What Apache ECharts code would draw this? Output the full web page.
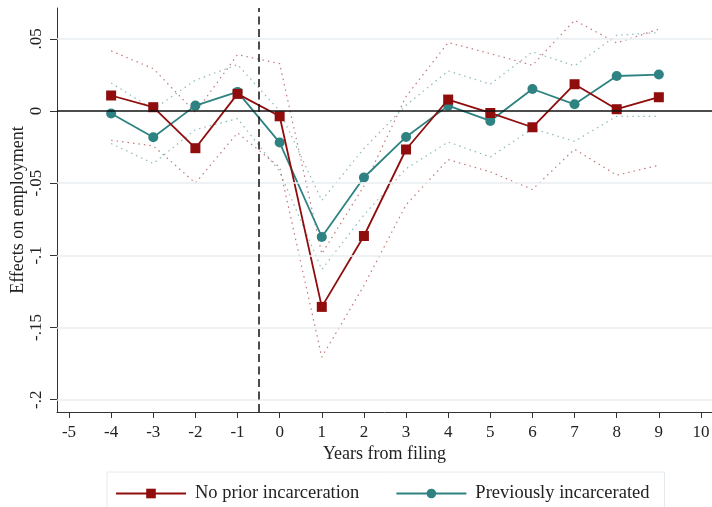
<!DOCTYPE html>
<html>
<head>
<meta charset="utf-8">
<script src="https://cdn.jsdelivr.net/npm/echarts@6/dist/echarts.min.js"></script>
<style>html,body{margin:0;padding:0;background:#fff}#c{width:712px;height:507px}</style>
</head>
<body>
<div id="c"></div>
<script>
var years = [-4,-3,-2,-1,0,1,2,3,4,5,6,7,8,9];
var noPrior = [0.0107,0.0026,-0.0258,0.0118,-0.0037,-0.1357,-0.0866,-0.0267,0.0079,-0.0014,-0.0113,0.0185,0.0012,0.0095];
var noPriorUpper = [0.0416,0.0293,-0.0010,0.0390,0.0328,-0.0990,-0.0520,0.0100,0.0474,0.0397,0.0316,0.0628,0.0471,0.0566];
var noPriorLower = [-0.0203,-0.0242,-0.0499,-0.0152,-0.0390,-0.1705,-0.1210,-0.0650,-0.0337,-0.0422,-0.0544,-0.0265,-0.0445,-0.0376];
var prevInc = [-0.0018,-0.0182,0.0037,0.0132,-0.0219,-0.0873,-0.0461,-0.0180,0.0037,-0.0069,0.0152,0.0046,0.0242,0.0252];
var prevIncUpper = [0.0194,0.0010,0.0213,0.0321,0.0000,-0.0620,-0.0260,0.0040,0.0277,0.0185,0.0409,0.0312,0.0524,0.0543];
var prevIncLower = [-0.0226,-0.0364,-0.0129,-0.0053,-0.0420,-0.1098,-0.0720,-0.0400,-0.0215,-0.0319,-0.0122,-0.0210,-0.0037,-0.0037];
var xTicks = [-5,-4,-3,-2,-1,0,1,2,3,4,5,6,7,8,9,10];
var yTicks = [-0.2,-0.15,-0.1,-0.05,0,0.05];
var yTickLabels = ['-.2','-.15','-.1','-.05','0','.05'];
var filingLine = -0.5;
var names = ['No prior incarceration','Previously incarcerated'];

var RED = '#8f0d0d', TEAL = '#2e8282';
var FONT = 'Liberation Serif';
function pairs(ys){ return years.map(function(x,i){ return [x, ys[i]]; }); }

var gridLines = yTicks.filter(function(v){ return v !== 0; }).map(function(v){
  return {yAxis: v, lineStyle:{color:'#e8eef1', width:1.5, type:'solid'}};
});

var chart = echarts.init(document.getElementById('c'), null, {renderer:'canvas'});
chart.setOption({
  animation:false,
  backgroundColor:'#fff',
  grid:{left:57, right:0, top:8, bottom:95, containLabel:false, outerBoundsMode:'none'},
  xAxis:{
    type:'value', min:-5.285, max:10.262,
    name:'Years from filing', nameLocation:'middle', nameGap:33, nameMoveOverlap:false,
    nameTextStyle:{fontFamily:FONT, fontSize:18, color:'#222'},
    axisLine:{show:true, onZero:false, lineStyle:{color:'#333', width:1}},
    axisTick:{show:true, length:6, customValues:xTicks, lineStyle:{color:'#333'}},
    axisLabel:{customValues:xTicks, fontFamily:FONT, fontSize:17, color:'#222', margin:12},
    splitLine:{show:false}
  },
  yAxis:{
    type:'value', min:-0.2085, max:0.0713,
    name:'Effects on employment', nameLocation:'middle', nameGap:30, nameMoveOverlap:false,
    nameTextStyle:{fontFamily:FONT, fontSize:18, color:'#222'},
    axisLine:{show:true, onZero:false, lineStyle:{color:'#333', width:1}},
    axisTick:{show:true, length:7, customValues:yTicks, lineStyle:{color:'#333'}},
    axisLabel:{customValues:yTicks, rotate:90, fontFamily:FONT, fontSize:17, color:'#222', margin:12,
      formatter:function(v){ var i=yTicks.findIndex(function(t){return Math.abs(t-v)<1e-9;}); return i>=0?yTickLabels[i]:''; }},
    splitLine:{show:false}
  },
  legend:{
    data:names, left:107, top:472, width:560,
    padding:[12,15,14,8], itemGap:36, itemWidth:70, itemHeight:12,
    borderColor:'#e4eaed', borderWidth:1, backgroundColor:'#fff',
    textStyle:{fontFamily:FONT, fontSize:18.5, color:'#222', padding:[0,0,0,4]}
  },
  series:[
    {type:'line', name:'_grid', data:[], silent:true, z:1,
      markLine:{silent:true, symbol:'none', label:{show:false}, animation:false,
        data: gridLines.concat([
          {yAxis:0, lineStyle:{color:'#111', width:1.5, type:'solid'}},
          {xAxis:filingLine, lineStyle:{color:'#111', width:1.5, type:[8,4.5]}}
        ])}},
    {type:'line', name:'_nu', data:pairs(noPriorUpper), symbol:'none', silent:true, z:2,
      lineStyle:{color:RED, width:1.2, type:[1.5,4], opacity:0.55}},
    {type:'line', name:'_nl', data:pairs(noPriorLower), symbol:'none', silent:true, z:2,
      lineStyle:{color:RED, width:1.2, type:[1.5,4], opacity:0.55}},
    {type:'line', name:'_pu', data:pairs(prevIncUpper), symbol:'none', silent:true, z:2,
      lineStyle:{color:TEAL, width:1.2, type:[1.5,4], opacity:0.55}},
    {type:'line', name:'_pl', data:pairs(prevIncLower), symbol:'none', silent:true, z:2,
      lineStyle:{color:TEAL, width:1.2, type:[1.5,4], opacity:0.55}},
    {type:'line', name:names[0], data:pairs(noPrior), symbol:'rect', symbolSize:10, z:4,
      itemStyle:{color:RED}, lineStyle:{color:RED, width:1.8}},
    {type:'line', name:names[1], data:pairs(prevInc), symbol:'circle', symbolSize:10, z:3,
      itemStyle:{color:TEAL}, lineStyle:{color:TEAL, width:1.8}}
  ]
});
</script>
</body>
</html>
